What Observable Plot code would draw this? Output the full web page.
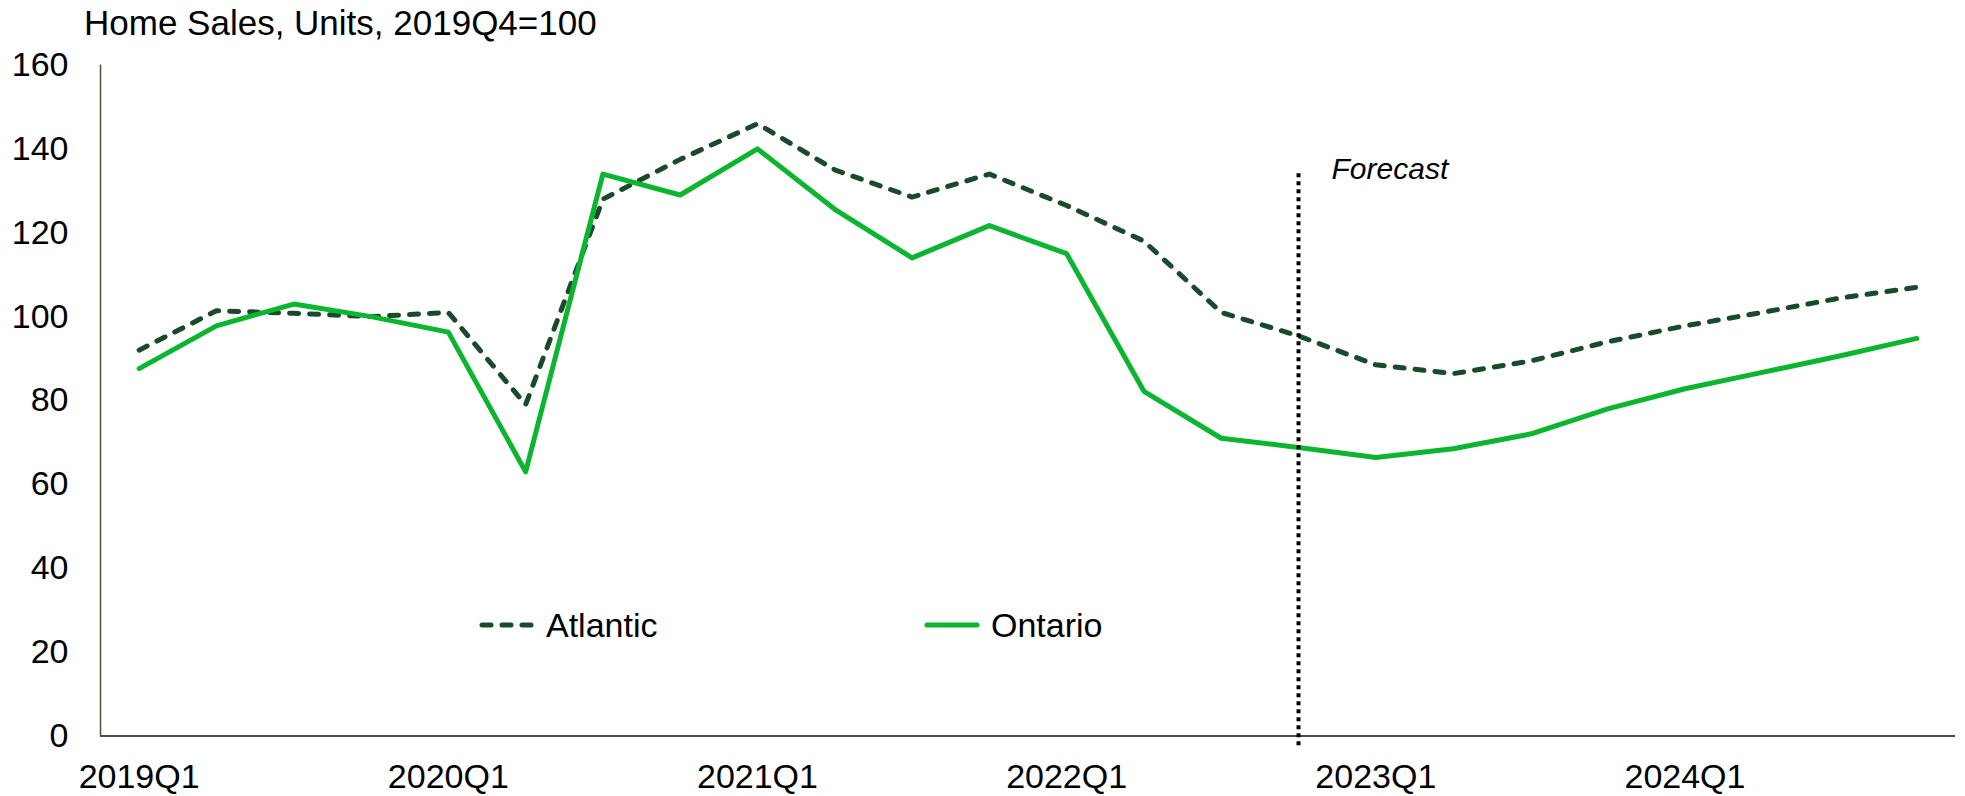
<!DOCTYPE html>
<html><head><meta charset="utf-8">
<script src="https://cdn.jsdelivr.net/npm/d3@7"></script>
<script src="https://cdn.jsdelivr.net/npm/@observablehq/plot@0.6"></script>
<style>
body{margin:0;background:#fff;font-family:"Liberation Sans",Arial,sans-serif;}
#wrap{position:relative;width:1965px;height:796px;overflow:hidden;}
#title{position:absolute;left:84px;top:3px;font-size:35px;line-height:40px;color:#000;white-space:nowrap;}
#chart{position:absolute;left:0;top:45px;}
.leg{position:absolute;top:605px;height:40px;display:flex;align-items:center;font-size:34px;color:#000;}
.leg svg{margin-right:10px;}
</style></head>
<body>
<div id="wrap">
  <div id="title"></div>
  <div id="chart"></div>
  <div class="leg" id="legA" style="left:478px"></div>
  <div class="leg" id="legO" style="left:923px"></div>
</div>
<script>
const quarters = ["2019Q1","2019Q2","2019Q3","2019Q4","2020Q1","2020Q2","2020Q3","2020Q4",
  "2021Q1","2021Q2","2021Q3","2021Q4","2022Q1","2022Q2","2022Q3","2022Q4",
  "2023Q1","2023Q2","2023Q3","2023Q4","2024Q1","2024Q2","2024Q3","2024Q4"];
const atlantic = [92,101.4,100.8,100,101,79,128,137.5,146,135,128.5,134,126.5,118,101,95.4,88.5,86.4,89.4,94,97.8,101,104.4,107];
const ontario = [87.6,97.8,103,100,96.3,63,134,129,140,125.6,114,121.7,115,82.2,71,68.8,66.4,68.5,72,78,82.8,86.7,90.6,94.8];
const tickLabels = ["2019Q1","2020Q1","2021Q1","2022Q1","2023Q1","2024Q1"];
const yTicks = [0,20,40,60,80,100,120,140,160];
const seriesNames = ["Atlantic","Ontario"];
const seriesColors = ["#1b4a2b","#0cb52f"];
const titleText = "Home Sales, Units, 2019Q4=100";
const forecastStart = "2022Q4";
const forecastRange = [-2.3, 135];
const forecastLabel = "Forecast";

const xDomain = [-0.5, 23.5];
const yDomain = [0, 160];

const rows = quarters.flatMap((q, i) => [
  {i, q, series: seriesNames[0], v: atlantic[i]},
  {i, q, series: seriesNames[1], v: ontario[i]}
]);
const fIdx = quarters.indexOf(forecastStart);

const chart = Plot.plot({
  width: 1965, height: 751,
  marginLeft: 100, marginRight: 10, marginTop: 19.5, marginBottom: 60.5,
  style: {fontFamily: '"Liberation Sans", Arial, sans-serif', background: "#fff", color: "#000"},
  x: {type: "linear", domain: xDomain},
  y: {domain: yDomain},
  marks: [
    Plot.ruleY([yDomain[0]], {stroke: "#4a5040", strokeWidth: 2}),
    Plot.ruleX([xDomain[0]], {y1: yDomain[0], y2: yDomain[1], stroke: "#4a5040", strokeWidth: 1.5}),
    Plot.axisY({ticks: yTicks, tickSize: 0, tickPadding: 32, fontSize: 34, label: null}),
    Plot.axisX({ticks: tickLabels.map(t => quarters.indexOf(t)), tickFormat: i => quarters[i], tickSize: 0, tickPadding: 28, fontSize: 34, label: null}),
    Plot.line(rows.filter(d => d.series === seriesNames[0]), {x: "i", y: "v", stroke: seriesColors[0], strokeWidth: 5, strokeDasharray: "9,11", strokeLinecap: "round", strokeLinejoin: "round"}),
    Plot.line(rows.filter(d => d.series === seriesNames[1]), {x: "i", y: "v", stroke: seriesColors[1], strokeWidth: 5, strokeLinejoin: "round"}),
    Plot.ruleX([fIdx], {y1: forecastRange[0], y2: forecastRange[1], stroke: "#000", strokeWidth: 4, strokeDasharray: "4,4"}),
    Plot.text([forecastLabel], {x: fIdx, y: forecastRange[1], text: d => d, dx: 33, textAnchor: "start", lineAnchor: "middle", fontStyle: "italic", fontSize: 30, fill: "#000"})
  ]
});
document.getElementById("chart").appendChild(chart);
document.getElementById("title").textContent = titleText;

function swatch(color, dashed) {
  return `<svg width="58" height="12"><line x1="4" y1="6" x2="54" y2="6" stroke="${color}" stroke-width="5" stroke-linecap="round" ${dashed ? 'stroke-dasharray="9,11"' : ''}/></svg>`;
}
document.getElementById("legA").innerHTML = swatch(seriesColors[0], true) + `<span>${seriesNames[0]}</span>`;
document.getElementById("legO").innerHTML = swatch(seriesColors[1], false) + `<span>${seriesNames[1]}</span>`;
</script>
</body></html>
